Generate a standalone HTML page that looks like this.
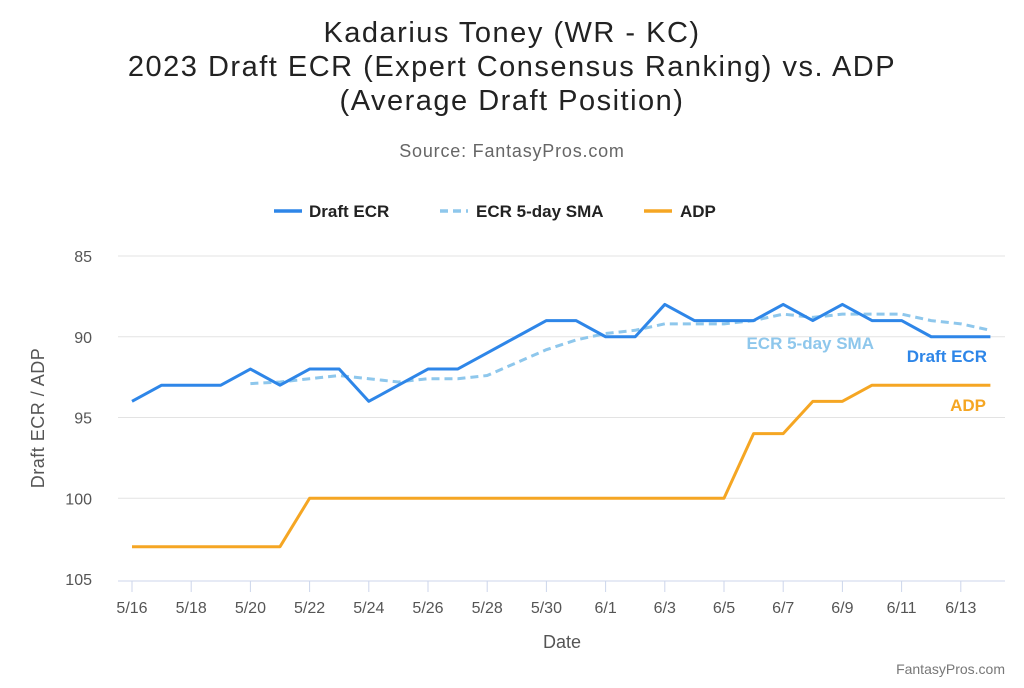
<!DOCTYPE html>
<html><head><meta charset="utf-8"><style>
body{margin:0;background:#fff;width:1024px;height:683px;overflow:hidden;font-family:"Liberation Sans",sans-serif}
</style></head><body>
<svg id="s" width="1024" height="683" xmlns="http://www.w3.org/2000/svg" font-family="Liberation Sans, sans-serif">
<g font-size="29" letter-spacing="1.5" text-anchor="middle" fill="#222">
<text x="512" y="42">Kadarius Toney (WR - KC)</text>
<text x="512" y="76">2023 Draft ECR (Expert Consensus Ranking) vs. ADP</text>
<text x="512" y="110">(Average Draft Position)</text>
</g>
<text x="512" y="157" font-size="18" letter-spacing="0.8" text-anchor="middle" fill="#666">Source: FantasyPros.com</text>
<line x1="274" y1="211" x2="302" y2="211" stroke="#2e86e8" stroke-width="3.5"/>
<text x="309" y="217" font-size="17" font-weight="bold" fill="#222">Draft ECR</text>
<line x1="440" y1="211" x2="468" y2="211" stroke="#8ec7ec" stroke-width="3.5" stroke-dasharray="8,5"/>
<text x="476" y="217" font-size="17" font-weight="bold" fill="#222">ECR 5-day SMA</text>
<line x1="644" y1="211" x2="672" y2="211" stroke="#f5a623" stroke-width="3.5"/>
<text x="680" y="217" font-size="17" font-weight="bold" fill="#222">ADP</text>
<g id="grid"></g>
<text transform="translate(44,418) rotate(-90)" font-size="18" letter-spacing="0.5" text-anchor="middle" fill="#555">Draft ECR / ADP</text>
<text x="562" y="648" font-size="18" text-anchor="middle" fill="#555">Date</text>
<text x="1005" y="674" font-size="14" text-anchor="end" fill="#777">FantasyPros.com</text>
<text x="874" y="349" font-size="17" font-weight="bold" text-anchor="end" fill="#8ec7ec">ECR 5-day SMA</text>
<text x="987" y="362" font-size="17" font-weight="bold" text-anchor="end" fill="#2e86e8">Draft ECR</text>
<text x="986" y="411" font-size="17" font-weight="bold" text-anchor="end" fill="#f5a623">ADP</text>
</svg>
<script>
const s=document.getElementById('s'),g=document.getElementById('grid');
const X=d=>132+29.6*d,Y=v=>256+16.15*(v-85);
let h='';
[85,90,95,100].forEach(v=>{h+=`<line x1="118" x2="1005" y1="${Y(v)}" y2="${Y(v)}" stroke="#e3e3e3"/>`;});
[85,90,95,100,105].forEach(v=>{h+=`<text x="92" y="${Y(v)+6}" font-size="16" text-anchor="end" fill="#555">${v}</text>`;});
h+=`<line x1="118" x2="1005" y1="581" y2="581" stroke="#ccd6eb"/>`;
const labs=['5/16','5/18','5/20','5/22','5/24','5/26','5/28','5/30','6/1','6/3','6/5','6/7','6/9','6/11','6/13'];
labs.forEach((l,i)=>{const x=X(i*2);h+=`<line x1="${x}" x2="${x}" y1="581" y2="592" stroke="#ccd6eb"/><text x="${x}" y="613" font-size="16" text-anchor="middle" fill="#555">${l}</text>`;});
const ecr=[94,93,93,93,92,93,92,92,94,93,92,92,91,90,89,89,90,90,88,89,89,89,88,89,88,89,89,90,90,90];
const sma=[92.9,92.8,92.6,92.4,92.6,92.8,92.6,92.6,92.4,91.6,90.8,90.2,89.8,89.6,89.2,89.2,89.2,89,88.6,88.8,88.6,88.6,88.6,89,89.2,89.6];
const adp=[103,103,103,103,103,103,100,100,100,100,100,100,100,100,100,100,100,100,100,100,100,96,96,94,94,93,93,93,93,93];
const pl=(a,o,c,extra)=>`<polyline fill="none" stroke="${c}" stroke-width="3" stroke-linejoin="round" ${extra||''} points="${a.map((v,i)=>X(i+o)+','+Y(v)).join(' ')}"/>`;
h+=pl(adp,0,'#f5a623')+pl(sma,4,'#8ec7ec','stroke-dasharray="8,5"')+pl(ecr,0,'#2e86e8');
g.innerHTML=h;
</script>
</body></html>
